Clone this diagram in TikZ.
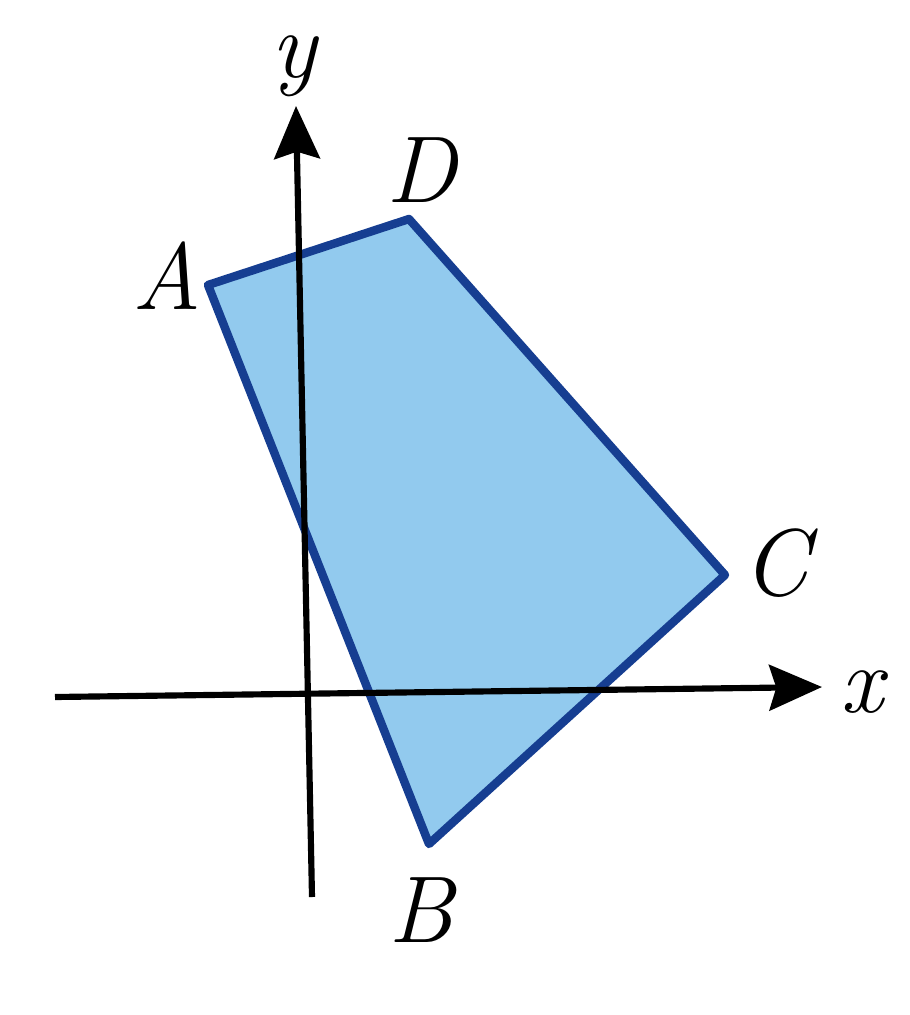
\documentclass[tikz,border=0pt]{standalone}
\usepackage{fontspec}
\usetikzlibrary{arrows.meta}
\definecolor{fillblue}{RGB}{146,202,238}
\definecolor{edgeblue}{RGB}{22,62,145}
\tikzset{
  axisline/.style={line width=3.5pt, black, -{Stealth[length=30pt,width=26pt,inset=4pt]}},
  polyline/.style={line width=4.8pt, edgeblue, fill=fillblue, line join=round},
  lbl/.style={font=\fontsize{54}{60}\selectfont\itshape, inner sep=0pt}
}
\begin{document}
\begin{tikzpicture}[x=0.02cm,y=-0.02cm]
\useasboundingbox (0,0) rectangle (910,1015);
\coordinate (A) at (208,285);
\coordinate (D) at (409,219);
\coordinate (C) at (725,575);
\coordinate (B) at (429,844);
\filldraw[polyline] (A) -- (D) -- (C) -- (B) -- cycle;
\coordinate (xs) at (55,697);
\coordinate (xe) at (822,687);
\coordinate (ys) at (312,897);
\coordinate (ye) at (296,106);
\draw[axisline] (xs) -- (xe);
\draw[axisline] (ys) -- (ye);
\node[lbl] (lA) at (167,276) {A};
\node[lbl] (lD) at (422,170) {D};
\node[lbl] (lC) at (776,563) {C};
\node[lbl] (lB) at (421,910) {B};
\node[lbl] (lx) at (862,692) {x};
\node[lbl] (ly) at (294,66) {y};
\end{tikzpicture}
\end{document}
